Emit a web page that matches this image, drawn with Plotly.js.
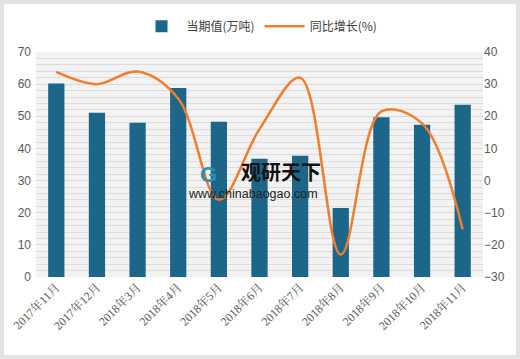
<!DOCTYPE html>
<html>
<head>
<meta charset="utf-8">
<script src="https://cdn.plot.ly/plotly-3.0.1.min.js"></script>
<style>
html,body{margin:0;padding:0;background:#fff;}
#wrap{position:relative;width:520px;height:359px;}
#chart{position:absolute;left:0;top:0;width:520px;height:359px;}
#frame{position:absolute;left:0;top:0;width:520px;height:359px;box-sizing:border-box;border:4px solid #e3e3e3;pointer-events:none;}
</style>
</head>
<body>
<div id="wrap"><div id="chart"></div><div id="frame"></div></div>
<script>
var categories = ["2017年11月","2017年12月","2018年3月","2018年4月","2018年5月","2018年6月","2018年7月","2018年8月","2018年9月","2018年10月","2018年11月"];
var currentValue = [60.2, 51.1, 48.0, 58.8, 48.3, 36.8, 37.7, 21.5, 49.7, 47.4, 53.6];
var yoyGrowth = [33.8, 30.0, 33.9, 25.5, -6.0, 16.0, 32.0, -23.0, 21.5, 17.8, -15.2];
var seriesNames = ["当期值(万吨)", "同比增长(%)"];

var bars = {
  type: "bar", x: categories, y: currentValue, name: seriesNames[0],
  marker: {color: "#1b6689"}, width: 0.4, hoverinfo: "x+y"
};
var line = {
  type: "scatter", mode: "lines", x: categories, y: yoyGrowth, name: seriesNames[1],
  yaxis: "y2", line: {color: "#ee7d2e", width: 2.5, shape: "spline", smoothing: 1}
};

var tickFont = {family: "Liberation Sans, Arial, sans-serif", size: 12, color: "#595959"};
var layout = {
  width: 520, height: 359,
  margin: {l: 36, r: 37, t: 45, b: 82},
  paper_bgcolor: "#ffffff", plot_bgcolor: "#f2f2f2",
  showlegend: true,
  legend: {orientation: "h", x: 0.5, xanchor: "center", y: 1.115, yanchor: "middle",
    font: {family: "Noto Sans CJK SC, sans-serif", size: 12, color: "#404040"},
    itemwidth: 40, traceorder: "normal"},
  xaxis: {type: "category", tickangle: -45, showgrid: false, zeroline: false, showline: false,
    ticks: "", tickfont: {family: "Liberation Serif, Noto Serif CJK SC, Noto Sans CJK SC, serif", size: 12, color: "#595959"},
    range: [-0.5, 10.5], fixedrange: true},
  yaxis: {range: [0, 70], dtick: 10, tick0: 0, showgrid: true, gridcolor: "#dadada", gridwidth: 1,
    zeroline: false, showline: false, ticks: "", tickfont: tickFont, ticklabelstandoff: 4,
    minor: {dtick: 2, showgrid: true, gridcolor: "#dddddd", gridwidth: 1}},
  yaxis2: {range: [-30, 40], dtick: 10, tick0: -30, overlaying: "y", side: "right", showgrid: false,
    zeroline: false, showline: false, ticks: "", tickfont: tickFont},
  annotations: [
    {xref: "paper", yref: "paper", x: 0.455, y: 0.47, xanchor: "left", yanchor: "middle", showarrow: false,
     text: "<b>观研天下</b>", font: {family: "Noto Sans CJK SC, sans-serif", size: 20, color: "#111111"}},
    {xref: "paper", yref: "paper", x: 0.335, y: 0.37, xanchor: "left", yanchor: "middle", showarrow: false,
     text: "www.chinabaogao.com", font: {family: "Liberation Sans, Arial, sans-serif", size: 12.5, color: "#222222"}},
    {xref: "paper", yref: "paper", x: 0.385, y: 0.455, xanchor: "center", yanchor: "middle", showarrow: false,
     text: "<b>G</b>", font: {family: "Liberation Sans, Arial, sans-serif", size: 22, color: "#2b8fb8"}}
  ]
};
Plotly.newPlot("chart", [bars, line], layout, {displayModeBar: false, staticPlot: true});
</script>
</body>
</html>
